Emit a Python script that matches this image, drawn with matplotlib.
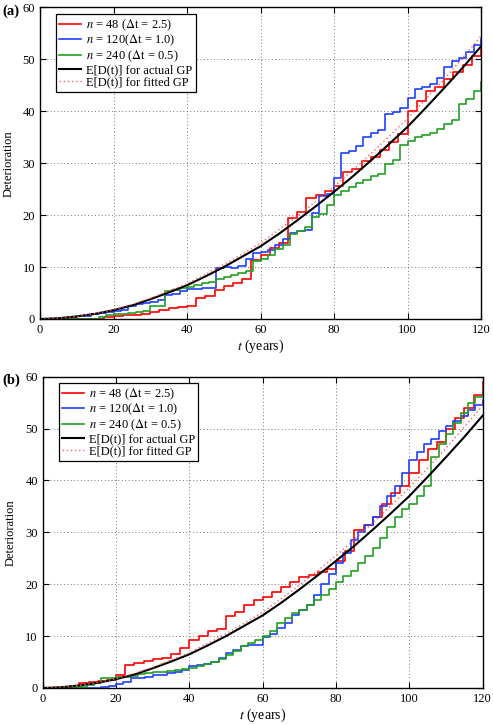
import numpy as np
import matplotlib
matplotlib.use("Agg")
import matplotlib.pyplot as plt

plt.rcParams['font.family'] = ['Liberation Serif', 'DejaVu Serif']
plt.rcParams['mathtext.fontset'] = 'stix'

# ---------------- data ----------------
t_red = np.arange(0, 120.01, 2.5)      # n = 48
t_bg = np.arange(0, 120.01, 2.0)       # sampled blue / green
t_mean = np.arange(0, 120.01, 5.0)

a_red = [0, 0, 0, 0, 0, 0, 0.05, 0.3, 0.5, 0.7, 0.8, 0.9, 1.4, 1.8, 2.1, 2.3, 2.6,
         4.0, 4.4, 5.6, 6.3, 7.0, 7.8, 11.4, 12.3, 13.6, 14.6, 19.5, 20.6, 23.3, 23.9,
         24.7, 25.6, 28.4, 28.9, 30.5, 31.2, 32.5, 34.0, 35.6, 40.0, 42.0, 43.9, 44.6,
         46.2, 47.5, 49.0, 50.6, 52.3]
a_blue = [0, 0, 0, 0, 0.45, 0.5, 0.6, 1.0, 1.1, 1.4, 1.6, 1.8, 2.6, 2.8, 3.0, 3.3, 3.6,
          4.6, 4.8, 5.3, 5.7, 5.8, 5.9, 6.0, 9.8, 10.0, 9.9, 10.3, 11.5, 12.8, 13.0, 13.2,
          14.3, 15.5, 16.6, 16.9, 17.2, 20.5, 23.6, 24.0, 27.2, 32.0, 32.4, 33.4, 35.0,
          35.8, 36.5, 39.4, 39.8, 40.7, 42.5, 44.3, 44.6, 45.2, 46.5, 48.6, 49.7, 50.3,
          51.5, 52.8, 54.0]
a_green = [0, 0, 0, 0, 0, 0, 0, 0, 0.3, 0.7, 0.9, 1.0, 1.1, 1.3, 1.6, 2.5, 2.6, 5.3,
           5.5, 5.9, 6.2, 6.6, 6.9, 7.2, 7.7, 8.1, 8.5, 8.8, 9.3, 11.1, 11.6, 12.4, 13.5,
           14.2, 16.3, 17.0, 17.8, 19.6, 20.2, 22.0, 23.8, 24.6, 25.4, 26.1, 26.7, 27.5,
           28.0, 29.8, 30.6, 33.5, 34.2, 35.0, 35.4, 35.9, 36.6, 37.6, 38.3, 41.4, 42.4,
           44.0, 45.6]

b_red = [0, 0, 0, 0, 1.0, 1.2, 1.4, 1.6, 2.5, 4.4, 4.9, 5.3, 5.6, 5.8, 6.5, 7.8, 9.3,
         10.1, 10.9, 11.3, 13.8, 14.6, 16.0, 16.9, 17.5, 18.5, 19.5, 20.5, 21.3, 21.8,
         22.3, 23.0, 24.5, 26.5, 30.5, 31.5, 33.0, 35.5, 37.5, 39.0, 41.5, 44.0, 46.0,
         47.5, 50.0, 52.0, 54.0, 56.5, 59.0]
b_blue = [0, 0, 0, 0, 0, 0, 0, 0, 0.1, 0.3, 0.8, 1.1, 1.9, 2.0, 2.2, 2.5, 2.5, 2.8, 3.0,
          3.4, 4.2, 4.4, 4.7, 5.0, 5.8, 6.8, 7.4, 8.0, 8.3, 8.3, 9.8, 10.5, 11.5, 12.5,
          14.0, 15.0, 16.0, 18.0, 20.0, 22.0, 24.0, 26.0, 28.5, 30.0, 31.5, 33.0, 35.0,
          37.0, 39.0, 41.5, 44.0, 45.5, 47.0, 48.0, 49.5, 50.5, 51.5, 52.5, 53.5, 54.5,
          55.5]
b_green = [0, 0, 0, 0, 0, 0.2, 0.5, 0.9, 1.9, 2.0, 2.1, 2.2, 2.4, 2.7, 2.8, 3.0, 3.1,
           3.3, 3.4, 3.7, 3.9, 4.2, 4.6, 5.1, 5.5, 6.3, 7.2, 8.1, 8.6, 9.2, 10.0, 11.0,
           12.5, 13.5, 14.5, 15.0, 16.0, 17.0, 18.0, 19.0, 20.5, 21.5, 22.5, 24.0, 25.5,
           27.0, 29.0, 31.0, 33.0, 34.5, 35.5, 37.0, 39.0, 44.5, 47.0, 49.0, 51.0, 53.0,
           55.0, 56.0, 57.0]

mean_actual = [0, 0.15, 0.5, 1.0, 1.7, 2.6, 3.8, 5.1, 6.5, 8.2, 10.0, 12.0, 14.0,
               16.4, 19.0, 21.7, 24.5, 27.4, 30.5, 33.7, 37.0, 40.7, 44.5, 48.4, 52.5]
mean_fit_a = [0, 0.15, 0.5, 1.05, 1.8, 2.8, 4.0, 5.4, 6.8, 8.6, 10.5, 12.5, 14.6,
              17.2, 19.8, 22.6, 25.5, 28.6, 31.8, 35.2, 38.6, 42.4, 46.2, 50.3, 54.5]
mean_fit_b = [0, 0.15, 0.5, 1.05, 1.8, 2.8, 4.0, 5.4, 6.8, 8.6, 10.5, 12.5, 14.6,
              17.2, 19.8, 22.6, 25.5, 28.6, 31.8, 35.2, 38.6, 42.4, 46.2, 50.3, 54.5]

labels = [r'$n$ = 48 ($\Delta$t = 2.5)', r'$n$ = 120($\Delta$t = 1.0)',
          r'$n$ = 240 ($\Delta$t = 0.5)', 'E[D(t)] for actual GP', 'E[D(t)] for fitted GP']
xticks = [0, 20, 40, 60, 80, 100, 120]
yticks = [0, 10, 20, 30, 40, 50, 60]

W, H = 493, 725
fig = plt.figure(figsize=(W / 100, H / 100), dpi=100)


def panel(rect, red, blue, green, fit, tag):
    l, t, r, b = rect
    ax = fig.add_axes([l / W, 1 - b / H, (r - l) / W, (b - t) / H])
    ax.plot(t_red, red, color='#ff0000', lw=1.2, drawstyle='steps-post', label=labels[0])
    ax.plot(t_bg, blue, color='#1f3fff', lw=1.2, drawstyle='steps-post', label=labels[1])
    ax.plot(t_bg, green, color='#22a022', lw=1.2, drawstyle='steps-post', label=labels[2])
    ax.plot(t_mean, mean_actual, color='black', lw=1.5, label=labels[3])
    ax.plot(t_mean, fit, color='#ff6060', lw=1.0, ls=(0, (1, 2)), label=labels[4])
    ax.set_xlim(0, 120)
    ax.set_ylim(0, 60)
    ax.set_xticks(xticks)
    ax.set_yticks(yticks)
    ax.tick_params(direction='in', top=True, right=True, labelsize=9, length=4, width=0.8)
    ax.grid(True, ls=(0, (1, 2.5)), color='#777777', lw=0.7)
    for s in ax.spines.values():
        s.set_linewidth(1.0)
    ax.set_ylabel('Deterioration', fontsize=9, labelpad=6)
    ax.set_xlabel(r'$t$ (years)', fontsize=10, labelpad=1)
    leg = ax.legend(loc='upper left', bbox_to_anchor=(0.037, 0.979), fontsize=9,
                    frameon=True, fancybox=False, edgecolor='black', framealpha=1,
                    handlelength=1.75, handletextpad=0.4, labelspacing=0.02,
                    borderpad=0.25, borderaxespad=0)
    leg.get_frame().set_linewidth(0.9)
    fig.text(2 / W, 1 - (t + 4) / H, tag, fontsize=10.5, fontweight='bold', va='center')
    return ax


panel((40, 7.5, 481, 319), a_red, a_blue, a_green, mean_fit_a, '(a)')
panel((42.7, 376.7, 482.7, 688), b_red, b_blue, b_green, mean_fit_b, '(b)')

fig.savefig('out.png', dpi=100)
